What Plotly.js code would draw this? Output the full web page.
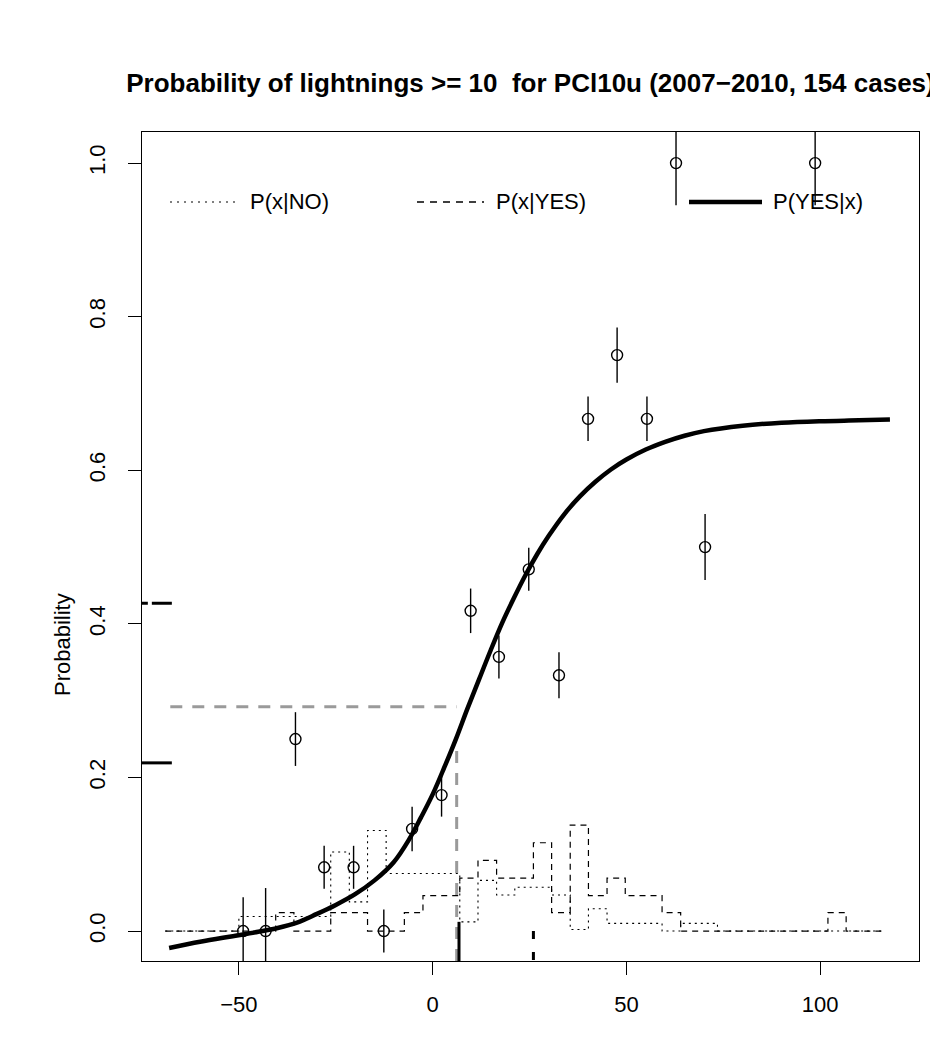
<!DOCTYPE html>
<html><head><meta charset="utf-8">
<script src="https://cdn.plot.ly/plotly-3.0.1.min.js"></script>
<style>body{margin:0;background:#fff}</style>
</head><body><div id="chart" style="width:930px;height:1043px"></div>
<script>
// Observed frequencies with error bars
const ptX   = [-48.9, -43.1, -35.4, -28.0, -20.4, -12.6, -5.3, 2.3, 9.8, 17.1, 24.8, 32.6, 40.1, 47.6, 55.3, 62.8, 70.3, 98.7];
const ptY   = [0, 0, 0.250, 0.083, 0.083, 0, 0.133, 0.177, 0.417, 0.357, 0.471, 0.333, 0.667, 0.750, 0.667, 1.0, 0.5, 1.0];
const ptErr = [0.044, 0.056, 0.035, 0.028, 0.028, 0.028, 0.029, 0.028, 0.029, 0.028, 0.028, 0.030, 0.029, 0.036, 0.029, 0.055, 0.043, 0.055];

// Fitted curve P(YES|x)
const curveX = [-68, -60, -52, -45, -40, -35, -30, -25, -20, -15, -10, -6, -3, 0, 3, 6, 9, 12, 15, 18, 21, 24, 27, 30, 34, 38, 42, 46, 50, 55, 60, 65, 70, 80, 90, 100, 110, 118];
const curveY = [-0.022, -0.014, -0.007, -0.001, 0.004, 0.011, 0.022, 0.034, 0.048, 0.066, 0.090, 0.120, 0.148, 0.178, 0.213, 0.250, 0.290, 0.328, 0.366, 0.402, 0.434, 0.464, 0.491, 0.515, 0.543, 0.566, 0.585, 0.601, 0.614, 0.627, 0.637, 0.645, 0.651, 0.658, 0.662, 0.664, 0.665, 0.666];

// Histogram bin edges and densities
const binEdges = [-69.0, -64.3, -59.5, -54.8, -50.0, -45.3, -40.5, -35.8, -31.0, -26.3, -21.5, -16.8, -12.0, -7.3, -2.5, 2.2, 7.0, 11.7, 16.5, 21.2, 26.0, 30.7, 35.5, 40.2, 45.0, 49.7, 54.5, 59.2, 64.0, 68.7, 73.5, 78.2, 83.0, 87.7, 92.5, 97.2, 102.0, 106.7, 111.5, 116.2];
const densNo  = [0, 0, 0, 0, 0.019, 0.019, 0.019, 0.019, 0.019, 0.103, 0.038, 0.131, 0.075, 0.075, 0.075, 0.075, 0.012, 0.066, 0.047, 0.057, 0.057, 0.047, 0.002, 0.029, 0.010, 0.010, 0.010, 0, 0.010, 0.010, 0, 0, 0, 0, 0, 0, 0, 0, 0];
const densYes = [0, 0, 0, 0, 0, 0, 0.024, 0, 0, 0.024, 0.024, 0, 0, 0.024, 0.046, 0.046, 0.069, 0.092, 0.069, 0.069, 0.115, 0.024, 0.138, 0.046, 0.069, 0.046, 0.046, 0.024, 0, 0, 0, 0, 0, 0, 0, 0, 0.024, 0, 0];

// Reference / threshold lines
const grayHX = [-67.7, 6.2], grayHY = [0.292, 0.292];
const grayVX = [6.2, 6.2],   grayVY = [-0.039, 0.245];
const leftSolidX = [-75, -67.3], leftSolidY = [0.219, 0.219];
const leftDashX  = [-67.3, -75], leftDashY  = [0.427, 0.427];
const botSolidX = [6.8, 6.8],  botSolidY = [-0.039, 0.012];
const botDashX  = [26.0, 26.0], botDashY = [0.0, -0.039];

const legendLabels = ['P(x|NO)', 'P(x|YES)', 'P(YES|x)'];
const titleText = 'Probability of lightnings >= 10\u00a0 for PCl10u (2007\u22122010, 154 cases)';
const yTitle = 'Probability';

function stepY(v){ return v.concat([v[v.length-1]]); }

const FONT = 'Liberation Sans, Arial, Helvetica, sans-serif';
const traces = [
  {x: binEdges, y: stepY(densNo), mode:'lines', line:{shape:'hv', color:'black', width:1.1, dash:'2px,4px'}, showlegend:false, hoverinfo:'skip'},
  {x: binEdges, y: stepY(densYes), mode:'lines', line:{shape:'hv', color:'black', width:1.2, dash:'6px,5px'}, showlegend:false, hoverinfo:'skip'},
  {x: grayHX, y: grayHY, mode:'lines', line:{color:'#9a9a9a', width:3, dash:'12px,10px'}, showlegend:false},
  {x: grayVX, y: grayVY, mode:'lines', line:{color:'#9a9a9a', width:3, dash:'12px,10px'}, showlegend:false},
  {x: curveX, y: curveY, mode:'lines', line:{shape:'spline', smoothing:1, color:'black', width:4.5}, showlegend:false},
  {x: ptX, y: ptY, mode:'markers', marker:{symbol:'circle-open', size:11, color:'black', line:{width:1.4, color:'black'}},
   error_y:{type:'data', array: ptErr, visible:true, width:0, thickness:1.4, color:'black'}, showlegend:false},
  {x: leftSolidX, y: leftSolidY, mode:'lines', line:{color:'black', width:3}, showlegend:false},
  {x: leftDashX, y: leftDashY, mode:'lines', line:{color:'black', width:3, dash:'20px,4px'}, showlegend:false},
  {x: botSolidX, y: botSolidY, mode:'lines', line:{color:'black', width:3}, showlegend:false},
  {x: botDashX, y: botDashY, mode:'lines', line:{color:'black', width:3, dash:'8px,13px'}, showlegend:false}
];

// legend drawn manually (paper coords inside plot area)
const L = 142, W = 777, H = 829;
function px(x){ return (x - L) / W; }
const legY = (961 - 202) / H;
const shapes = [
  {type:'line', xref:'paper', yref:'paper', x0:px(170), x1:px(240), y0:legY, y1:legY, line:{color:'black', width:1.1, dash:'2px,5px'}},
  {type:'line', xref:'paper', yref:'paper', x0:px(417), x1:px(484), y0:legY, y1:legY, line:{color:'black', width:1.4, dash:'7px,6px'}},
  {type:'line', xref:'paper', yref:'paper', x0:px(689), x1:px(762), y0:legY, y1:legY, line:{color:'black', width:4.5}}
];
const annotations = [
  {xref:'paper', yref:'paper', x:px(248), y:legY, text:legendLabels[0], showarrow:false, xanchor:'left', yanchor:'middle', font:{family:FONT, size:22, color:'black'}},
  {xref:'paper', yref:'paper', x:px(494), y:legY, text:legendLabels[1], showarrow:false, xanchor:'left', yanchor:'middle', font:{family:FONT, size:22, color:'black'}},
  {xref:'paper', yref:'paper', x:px(771), y:legY, text:legendLabels[2], showarrow:false, xanchor:'left', yanchor:'middle', font:{family:FONT, size:22, color:'black'}},
  {xref:'paper', yref:'paper', x:px(62), y:(961 - 645) / H, text:yTitle, textangle:-90, showarrow:false, xanchor:'center', yanchor:'middle', font:{family:FONT, size:22, color:'black'}}
];

const layout = {
  width: 930, height: 1043,
  margin: {l:142, r:11, t:132, b:82, pad:0},
  paper_bgcolor:'white', plot_bgcolor:'white',
  font: {family: FONT, size: 22, color:'black'},
  title: {text: '<b>' + titleText + '</b>', font:{family:FONT, size:26, color:'black'}, x:0.5, xref:'paper', xanchor:'center', y:1 - 83/1043, yref:'container', yanchor:'middle'},
  xaxis: {range:[-75.0, 125.5], tickvals:[-50, 0, 50, 100], ticktext:['\u221250','0','50','100'], ticks:'outside', ticklen:13, tickwidth:1, tickcolor:'black',
          showline:true, linecolor:'black', linewidth:1, mirror:true, showgrid:false, zeroline:false, ticklabelstandoff:11,
          tickfont:{family:FONT, size:22, color:'black'}},
  yaxis: {range:[-0.039, 1.0405], tickvals:[0, 0.2, 0.4, 0.6, 0.8, 1.0], ticktext:['0.0','0.2','0.4','0.6','0.8','1.0'], tickangle:-90, ticks:'outside', ticklen:13, tickwidth:1, tickcolor:'black',
          showline:true, linecolor:'black', linewidth:1, mirror:true, showgrid:false, zeroline:false, ticklabelstandoff:14,
          tickfont:{family:FONT, size:22, color:'black'}},
  shapes: shapes,
  annotations: annotations,
  showlegend:false
};

Plotly.newPlot('chart', traces, layout, {staticPlot:true, displayModeBar:false});
</script></body></html>
